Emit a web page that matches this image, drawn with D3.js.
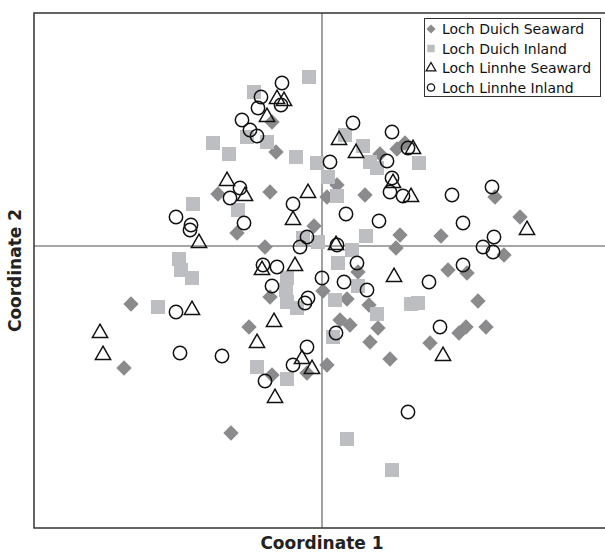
<!DOCTYPE html>
<html><head><meta charset="utf-8">
<script src="https://cdn.jsdelivr.net/npm/d3@7"></script>
<style>body{margin:0;background:#fff}svg{display:block}</style>
</head><body>
<script>
// Data (Coordinate 1, Coordinate 2)
const seriesNames = ["Loch Duich Seaward","Loch Duich Inland","Loch Linnhe Seaward","Loch Linnhe Inland"];
const duichSeaward = [[-1.91,-0.58],[-1.98,-1.22],[-0.91,-1.87],[-1.04,0.52],[-0.85,0.13],[-0.52,0.54],[-0.50,1.24],[-0.46,0.94],[-0.57,-0.01],[-0.52,-0.51],[-0.73,-0.81],[-0.50,-1.29],[-0.15,-1.27],[0.05,-1.19],[-0.08,0.20],[0.15,0.61],[0.05,0.49],[0.43,0.51],[0.58,0.92],[0.75,0.97],[0.83,1.03],[0.01,-0.45],[0.25,-0.53],[0.36,-0.26],[0.47,-0.59],[0.18,-0.74],[0.28,-0.79],[0.56,-0.82],[0.48,-0.96],[0.68,-1.13],[0.78,0.11],[0.74,-0.02],[1.19,0.10],[1.26,-0.24],[1.45,-0.27],[1.56,-0.55],[1.44,-0.81],[1.37,-0.87],[1.64,-0.81],[1.08,-0.97],[1.73,0.49],[1.82,-0.09],[1.98,0.29]];
const duichInland = [[-0.13,1.69],[-0.68,1.54],[-1.09,1.03],[-0.93,0.92],[-1.29,0.42],[-0.84,0.36],[-0.75,1.09],[-0.55,1.04],[-0.26,0.89],[-0.05,0.83],[0.23,1.11],[0.41,1.00],[0.48,0.84],[0.55,0.78],[0.97,0.83],[0.06,0.69],[0.15,0.50],[-0.04,0.04],[-0.19,0.08],[0.44,0.10],[0.30,-0.04],[0.16,-0.17],[0.36,-0.40],[-0.35,-0.32],[-0.36,-0.44],[-0.35,-0.56],[-0.25,-0.62],[0.13,-0.54],[0.55,-0.68],[0.11,-0.91],[-1.43,-0.13],[-1.41,-0.24],[-1.30,-0.32],[-1.64,-0.61],[-0.65,-1.21],[-0.35,-1.33],[0.25,-1.93],[0.70,-2.24],[0.89,-0.58],[0.96,-0.57]];
const linnheSeaward = [[-0.45,1.47],[-0.38,1.45],[-0.55,1.29],[-0.95,0.65],[-0.77,0.50],[-1.23,0.03],[-1.30,-0.64],[-2.22,-0.87],[-2.19,-1.09],[0.17,1.06],[0.34,0.93],[0.91,0.97],[0.71,0.63],[0.89,0.49],[-0.14,0.53],[-0.29,0.26],[0.14,0.01],[-0.60,-0.24],[-0.27,-0.20],[0.72,-0.31],[-0.48,-0.76],[-0.65,-0.97],[-0.20,-1.13],[-0.10,-1.23],[-0.47,-1.52],[1.21,-1.10],[2.05,0.16]];
const linnheInland = [[-0.40,1.63],[-0.61,1.49],[-0.41,1.41],[-0.64,1.38],[-0.80,1.26],[-0.72,1.16],[-0.65,1.10],[-0.82,0.58],[-0.92,0.48],[-0.78,0.23],[-1.46,0.29],[-1.31,0.21],[-1.32,0.16],[-0.29,0.42],[0.08,0.84],[0.31,1.23],[0.70,1.14],[0.65,0.85],[0.70,0.68],[0.68,0.54],[0.81,0.50],[1.30,0.51],[1.70,0.59],[1.41,0.23],[1.72,0.09],[1.61,-0.01],[1.71,-0.06],[1.41,-0.19],[1.07,-0.36],[1.18,-0.81],[0.86,-1.66],[0.86,0.98],[-0.15,0.09],[-0.22,-0.01],[0.24,0.32],[0.57,0.25],[0.15,0.01],[0.35,-0.17],[-0.59,-0.19],[-0.45,-0.21],[0.00,-0.32],[0.22,-0.36],[-0.50,-0.40],[-0.14,-0.52],[-0.17,-0.57],[0.45,-0.44],[0.14,-0.87],[-0.15,-1.01],[-0.29,-1.19],[-0.57,-1.35],[-1.46,-0.66],[-1.42,-1.07],[-1.00,-1.10]];
const xDomain = [-2.88, 2.88];
const yDomain = [-2.82, 2.33];
const axisTitles = ["Coordinate 1","Coordinate 2"];

const W = 605, H = 553;
const mLeft = 34, mRight = 610, mTop = 13, mBottom = 528;
const svg = d3.select("body").append("svg").attr("width", W).attr("height", H);
const x = d3.scaleLinear().domain(xDomain).range([mLeft, mRight]);
const y = d3.scaleLinear().domain(yDomain).range([mBottom, mTop]);

// zero cross lines
svg.append("line").attr("x1", x(0)).attr("x2", x(0)).attr("y1", mTop).attr("y2", mBottom)
  .attr("stroke", "#8a8a8a").attr("stroke-width", 1.6);
svg.append("line").attr("x1", mLeft).attr("x2", mRight).attr("y1", y(0)).attr("y2", y(0))
  .attr("stroke", "#8a8a8a").attr("stroke-width", 1.6);
// frame
svg.append("rect").attr("x", mLeft).attr("y", mTop).attr("width", mRight - mLeft).attr("height", mBottom - mTop)
  .attr("fill", "none").attr("stroke", "#333").attr("stroke-width", 1.5);

const diamondPath = s => d3.symbol().type(d3.symbolSquare).size(s)();
const styles = [
  {data: duichSeaward, path: diamondPath(118), rot: 45, fill: "#8b8b8d", stroke: "none", legPath: diamondPath(42)},
  {data: duichInland, path: d3.symbol().type(d3.symbolSquare).size(196)(), rot: 0, fill: "#bdbec1", stroke: "none", legPath: d3.symbol().type(d3.symbolSquare).size(56)()},
  {data: linnheSeaward, path: d3.symbol().type(d3.symbolTriangle).size(100)(), rot: 0, fill: "none", stroke: "#111", legPath: d3.symbol().type(d3.symbolTriangle).size(40)()},
  {data: linnheInland, path: d3.symbol().type(d3.symbolCircle).size(140)(), rot: 0, fill: "none", stroke: "#111", legPath: d3.symbol().type(d3.symbolCircle).size(42)()}
];

styles.forEach(st => {
  svg.append("g").selectAll("path").data(st.data).join("path")
    .attr("d", st.path)
    .attr("transform", d => `translate(${x(d[0])},${y(d[1])}) rotate(${st.rot})`)
    .attr("fill", st.fill).attr("stroke", st.stroke).attr("stroke-width", 1.5);
});

// legend
const lg = svg.append("g");
lg.append("rect").attr("x", 424.5).attr("y", 18.5).attr("width", 176).attr("height", 78)
  .attr("fill", "#fff").attr("stroke", "#333").attr("stroke-width", 1);
seriesNames.forEach((name, i) => {
  const cy = 29 + i * 19.5;
  const st = styles[i];
  lg.append("path").attr("d", st.legPath)
    .attr("transform", `translate(431,${cy}) rotate(${st.rot})`)
    .attr("fill", st.fill).attr("stroke", st.stroke).attr("stroke-width", 1.3);
  lg.append("text").attr("x", 442).attr("y", cy).attr("dy", "0.36em")
    .attr("font-family", "DejaVu Sans, Verdana, sans-serif").attr("font-size", 14)
    .attr("fill", "#111").text(name);
});

// axis titles
svg.append("text").attr("x", (mLeft + mRight) / 2).attr("y", 549)
  .attr("text-anchor", "middle").attr("font-family", "DejaVu Sans, Verdana, sans-serif")
  .attr("font-weight", "bold").attr("font-size", 17).attr("fill", "#222").text(axisTitles[0]);
svg.append("text").attr("transform", `translate(21,${(mTop + mBottom) / 2}) rotate(-90)`)
  .attr("text-anchor", "middle").attr("font-family", "DejaVu Sans, Verdana, sans-serif")
  .attr("font-weight", "bold").attr("font-size", 17).attr("fill", "#222").text(axisTitles[1]);
</script>
</body></html>
